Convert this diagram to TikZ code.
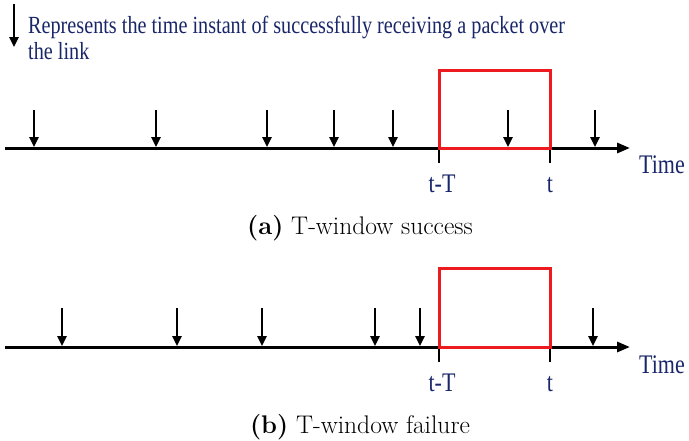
\documentclass[tikz,border=0pt]{standalone}
\usepackage{fontspec}
\newfontfamily\timesfont{Liberation Serif}
\usetikzlibrary{arrows.meta}
\definecolor{labelblue}{RGB}{25,38,105}
\definecolor{winred}{RGB}{237,26,32}
\newcommand{\tallbox}[1]{\scalebox{1}[1.22]{#1}}

\begin{document}
\begin{tikzpicture}[x=1pt, y=-1pt,
  axis/.style={line width=3pt, -{Triangle[length=13pt,width=10pt]}},
  pkt/.style={line width=2.4pt, -{Triangle[length=10pt,width=9pt]}},
  win/.style={draw=winred, line width=3pt},
  tickmark/.style={line width=2.6pt},
  lab/.style={text=labelblue, font=\timesfont\fontsize{22}{26}\selectfont, inner sep=0pt, anchor=base},
  captext/.style={font=\fontsize{25.5}{30}\selectfont, inner sep=0pt, anchor=base}]
  \useasboundingbox (0,0) rectangle (689,440);
  % legend
  \coordinate (k0) at (14,4);
  \draw[pkt] (k0) -- ++(0,43);
  \node[lab, font=\timesfont\fontsize{20.2}{26}\selectfont, anchor=north west, align=left] (legend) at (28,16)
    {\tallbox{Represents the time instant of successfully receiving a packet over}\\\tallbox{the link}};
  % (a) success
  \coordinate (a0) at (5,148); \coordinate (a1) at (630,148);
  \coordinate (aL) at (439,148); \coordinate (aR) at (550,148);
  \draw[axis] (a0) -- (a1);
  \draw[tickmark] (aL) -- ++(0,15); \draw[tickmark] (aR) -- ++(0,15);
  \draw[win] (aL) rectangle ([yshift=78pt]aR);
  \foreach \x [count=\i] in {34,156,267,334,393,508,595} {
    \coordinate (ap\i) at (\x,110);
    \draw[pkt] (ap\i) -- (\x,147);
  }
  \node[lab] (atT) at (442,192) {\tallbox{t-T}};
  \node[lab] (at) at (550,192) {\tallbox{t}};
  \node[lab, anchor=base west] (atime) at (639,173) {\tallbox{Time}};
  \node[captext] (acap) at (360,234) {\textbf{(a)} T-window success};
  % (b) failure
  \coordinate (b0) at (5,347); \coordinate (b1) at (630,347);
  \coordinate (bL) at (439,347); \coordinate (bR) at (550,347);
  \draw[axis] (b0) -- (b1);
  \draw[tickmark] (bL) -- ++(0,15); \draw[tickmark] (bR) -- ++(0,15);
  \draw[win] (bL) rectangle ([yshift=79pt]bR);
  \foreach \x [count=\i] in {62,177,262,375,420,593} {
    \coordinate (bp\i) at (\x,308);
    \draw[pkt] (bp\i) -- (\x,346);
  }
  \node[lab] (btT) at (442,391) {\tallbox{t-T}};
  \node[lab] (bt) at (550,391) {\tallbox{t}};
  \node[lab, anchor=base west] (btime) at (639,373) {\tallbox{Time}};
  \node[captext] (bcap) at (360,433) {\textbf{(b)} T-window failure};
\end{tikzpicture}
\end{document}
